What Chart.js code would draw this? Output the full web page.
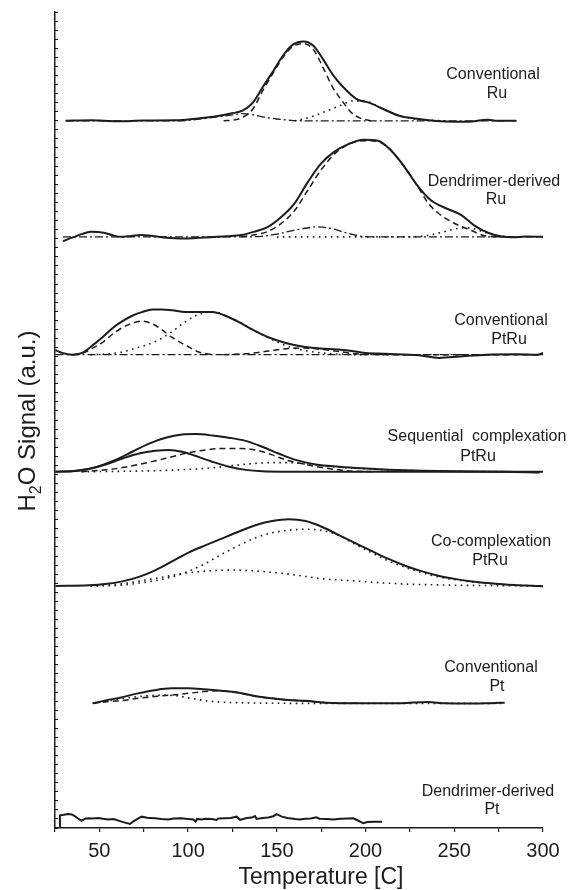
<!DOCTYPE html>
<html>
<head>
<meta charset="utf-8">
<title>TPR H2O signal</title>
<script src="https://cdn.jsdelivr.net/npm/chart.js@4.4.1/dist/chart.umd.min.js"></script>
<style>
  html, body { margin: 0; padding: 0; background: #fff; }
</style>
</head>
<body>
<canvas id="tprChart" width="569" height="890"></canvas>
<script>
// sample names (two lines each) and the vertical offset of each trace
const sampleNames = [
  ["Conventional", "Ru"],
  ["Dendrimer-derived", "Ru"],
  ["Conventional", "PtRu"],
  ["Sequential  complexation", "PtRu"],
  ["Co-complexation", "PtRu"],
  ["Conventional", "Pt"],
  ["Dendrimer-derived", "Pt"]
];
const baselines = [78.0, 65.2, 52.2, 39.3, 26.7, 13.75, 1.0];

// [temperature, signal above baseline]
const convRuTotal = [[31,0],[45,0.05],[60,-0.05],[75,0.03],[92,0.05],[100,0.15],[108,0.3],[116,0.5],[124,0.8],[131,1.15],[136.5,2.0],[142,3.7],[148,5.5],[153.5,7.2],[159,8.4],[165,8.75],[170.5,8.3],[176,6.8],[181.5,5.1],[187.5,3.7],[195,2.4],[202,2.0],[210,1.3],[219,0.55],[230,0.2],[245,-0.07],[258,-0.1],[265,0.05],[269,0.12],[274,0],[285,0]];
const convRuDash = [[120,0],[126,0.1],[131,0.4],[136.5,1.3],[142,3.3],[148,5.3],[153.5,7.0],[159,8.2],[165,8.5],[170.5,7.9],[176,5.9],[181.5,3.7],[187.5,2.0],[192,0.9],[197,0.3],[203,0]];
const convRuDot = [[160,0],[167,0.3],[173,0.7],[181,1.3],[187,1.8],[193,2.2],[199,2.2],[205,1.8],[212,1.1],[220,0.5],[230,0.15],[245,0]];
const convRuDashDot = [[31,0],[95,0],[105,0.15],[115,0.4],[125,0.65],[131,0.8],[137,0.65],[143,0.4],[150,0.2],[158,0.05],[165,0],[285,0]];

const dendRuTotal = [[29.5,-0.5],[33,-0.2],[36,0],[40,0.3],[45,0.55],[52.5,0.45],[57,0.2],[62,0],[68,0.1],[73.5,0.2],[81,0.07],[88,-0.1],[96,-0.18],[103,-0.15],[109,-0.07],[116,0],[122,0.07],[130,0.2],[137,0.55],[145,1.1],[152,2.1],[160,3.7],[167,5.9],[175,8.1],[182.5,9.4],[190,10.2],[199,10.7],[207,10.6],[214,9.6],[222,7.7],[229,5.7],[237,4.0],[246,3.1],[254,2.4],[261,1.3],[269,0.45],[276,0.07],[283,-0.05],[290,0.03],[300,0]];
const dendRuDash = [[130,0],[137,0.2],[145,0.6],[152,1.4],[160,2.9],[167,5.0],[175,7.4],[184,9.4],[193,10.4],[200,10.6],[207,10.5],[214,9.6],[222,7.7],[229,5.7],[235,3.8],[241,2.6],[250,1.5],[259,0.75],[268,0.1],[278,0]];
const dendRuDashDot = [[29.5,0],[130,0],[141,0.05],[150,0.3],[158,0.65],[166,0.95],[173,1.1],[180,0.95],[188,0.5],[195,0.15],[202,0],[300,0]];
const dendRuDot = [[150,0],[225,0],[235,0.15],[243,0.5],[250,0.85],[256,1.0],[262,0.85],[268,0.45],[275,0.1],[282,0]];

const convPtRuTotal = [[25.3,0.5],[29,0.2],[34.7,0],[40.3,0.2],[46,1.0],[51.6,1.9],[57.2,2.9],[63,3.7],[68.5,4.3],[74,4.7],[80,5.0],[85.4,5.0],[91,4.9],[98.6,4.7],[106,4.7],[113.6,4.7],[121,4.3],[128.7,3.6],[136,2.8],[145.6,1.9],[155,1.3],[166,0.85],[177.5,0.65],[189,0.5],[200,0.2],[211,0.1],[230,-0.07],[241.5,-0.35],[253,-0.2],[268,0],[285,0.05],[297,0],[300,0.2]];
const convPtRuDash = [[35,0],[41,0.2],[46,0.7],[52,1.4],[57,2.2],[63,3.0],[69,3.5],[74,3.7],[80,3.4],[85,2.8],[91,1.9],[99,1.0],[106,0.3],[114,0]];
const convPtRuDot = [[45,0],[55,0.1],[63,0.3],[70,0.7],[77,1.1],[85,1.8],[92,2.7],[99,3.7],[104,4.3],[110,4.65],[116,4.7],[121,4.3],[129,3.6],[136,2.8],[146,1.8],[155,1.0],[166,0.45],[178,0.15],[190,0.03],[200,0]];
const convPtRuDash2 = [[120,0],[135,0.15],[145,0.4],[155,0.65],[165,0.75],[175,0.6],[185,0.35],[195,0.1],[210,0],[300,0]];
const convPtRuDashDot = [[25.3,0],[300,0]];

const seqTotal = [[25.3,0],[36.6,0.1],[48,0.5],[59,1.3],[68.5,2.2],[78,3.1],[87.3,3.75],[96.7,4.1],[104,4.15],[113.6,4.0],[123,3.75],[132.4,3.4],[141.8,2.75],[151,2.0],[160.6,1.3],[172,0.8],[185,0.55],[198,0.37],[213,0.22],[232,0.1],[251,0.04],[279,0],[298,-0.1]];
const seqLow = [[25.3,0],[35,0.05],[44,0.3],[53.5,0.8],[63,1.45],[72.3,2.0],[81.7,2.3],[89.2,2.4],[96.7,2.2],[104,1.75],[113.6,1.1],[123,0.55],[132.4,0.2],[141.8,0.04],[153,0],[300,0]];
const seqDash = [[40,0],[53.5,0.2],[63,0.45],[72.3,0.8],[81.7,1.2],[91,1.65],[100.5,2.1],[110,2.4],[119.3,2.55],[130.5,2.55],[138,2.4],[147.4,1.85],[156.8,1.2],[166.2,0.8],[175.6,0.45],[185,0.2],[194.5,0.04],[205,0]];
const seqDot = [[40,0],[60,0.03],[80,0.1],[100,0.25],[115,0.45],[126,0.7],[137,0.9],[147,1.0],[157,1.0],[166,0.85],[175,0.7],[185,0.5],[198,0.35],[213,0.22],[232,0.1],[250,0.04],[280,0]];

const coTotal = [[25.3,0],[44,0.07],[53.5,0.2],[63,0.5],[72.3,1.0],[81.7,1.75],[91,2.7],[100.5,3.7],[110,4.5],[119.3,5.25],[128.7,6.0],[138,6.7],[147.4,7.15],[156.8,7.35],[166.2,7.15],[175.6,6.5],[185,5.6],[194.5,4.7],[204,3.8],[213.3,2.95],[222.7,2.2],[232,1.6],[241.5,1.1],[251,0.75],[260,0.5],[270,0.3],[279,0.15],[290,0.05],[300,-0.05]];
const coDotHigh = [[45,0],[60,0.05],[72,0.3],[82,0.6],[91,1.0],[100,1.6],[110,2.5],[119,3.5],[129,4.5],[138,5.3],[147,5.85],[157,6.15],[166,6.25],[176,6.1],[185,5.55],[194,4.6],[204,3.6],[213,2.75],[223,2.0],[232,1.45],[241,1.0],[251,0.68],[260,0.45],[270,0.27],[279,0.12],[300,0]];
const coDotLow = [[45,0],[55,0.1],[65,0.3],[75,0.6],[85,0.95],[95,1.3],[105,1.55],[115,1.7],[126,1.75],[138,1.65],[147,1.5],[157,1.3],[166,1.05],[175,0.8],[185,0.65],[194,0.55],[204,0.4],[213,0.3],[223,0.2],[232,0.15],[250,0.08],[270,0.04],[300,0]];

const convPtTotal = [[46.3,0],[53,0.3],[62.3,0.65],[71.7,1.1],[81,1.45],[90.5,1.65],[100,1.65],[109.3,1.55],[118.7,1.4],[128,1.2],[137.5,0.8],[147,0.55],[156.3,0.37],[166,0.28],[178,0.07],[198,0],[220,0.02],[235,0.15],[245,0],[259,-0.03],[270,0.02],[278.4,0.07]];
const convPtDash = [[46.3,0],[53,0.15],[62,0.3],[72,0.55],[81,0.75],[90,0.9],[100,1.1],[109,1.3],[116,1.38],[122,1.32],[128,1.18],[137.5,0.8],[147,0.55],[156,0.37],[166,0.26],[178,0.07],[198,0]];
const convPtDot = [[46.3,0],[53,0.2],[62,0.5],[72,0.75],[81,0.88],[88,0.9],[95,0.8],[100,0.6],[105,0.45],[109,0.3],[118,0.15],[128,0.07],[140,0.03],[160,0],[278.4,0]];

const dendPt = [[27.6,-0.85],[27.8,0.4],[30,0.45],[32.4,0.54],[34.5,0.5],[36.1,0.32],[38,0.05],[40,-0.2],[42,0.02],[43.7,0.07],[46,0.05],[49.4,0.1],[52,0.02],[55,-0.05],[58,-0.02],[62.5,-0.3],[64,-0.38],[67.2,-0.56],[69,-0.3],[71,-0.05],[73.8,0.25],[77,0.12],[81.3,0.07],[85,0],[88.8,-0.05],[92,0.04],[96.3,0.07],[100,0],[102.9,-0.05],[104.2,-0.3],[105,0],[107.6,-0.05],[110,0.02],[113.3,0],[116,-0.12],[117,0.05],[120.8,0.07],[124,0.1],[127.4,0.25],[129.3,-0.1],[133,0.1],[136,0.15],[137.7,0.32],[138.6,0],[142,0.1],[145.2,0.15],[148,0.3],[149.9,0.54],[152.8,0.25],[156,0.1],[160.3,0],[163,-0.05],[166,0.02],[169,0.05],[172.3,0.18],[174,0.02],[178,0],[181.7,-0.05],[186,0.03],[190,0.05],[193.1,0.07],[196,-0.2],[198.8,-0.48],[201,-0.35],[204.5,-0.3],[209.3,-0.3]];

const INK = "#1c1c1c";
const FONT = '"Liberation Sans", Arial, sans-serif';

const SOLID   = { borderWidth: 2,   borderDash: [] };
const DASH    = { borderWidth: 1.5, borderDash: [6, 4] };
const DOT     = { borderWidth: 1.6, borderDash: [1.6, 4.4] };
const DASHDOT = { borderWidth: 1.3, borderDash: [8, 3, 2, 3] };

function trace(points, sample, style, smooth = true) {
  const base = baselines[sample];
  return {
    data: points.map(([t, v]) => ({ x: t, y: base + v })),
    borderColor: INK,
    borderWidth: style.borderWidth,
    borderDash: style.borderDash,
    pointRadius: 0,
    fill: false,
    tension: smooth ? 0.4 : 0,
    cubicInterpolationMode: smooth ? "monotone" : "default"
  };
}

const datasets = [
  trace(convRuTotal, 0, SOLID),
  trace(convRuDash, 0, DASH),
  trace(convRuDot, 0, DOT),
  trace(convRuDashDot, 0, DASHDOT),

  trace(dendRuTotal, 1, SOLID),
  trace(dendRuDash, 1, DASH),
  trace(dendRuDashDot, 1, DASHDOT),
  trace(dendRuDot, 1, DOT),

  trace(convPtRuTotal, 2, SOLID),
  trace(convPtRuDash, 2, DASH),
  trace(convPtRuDot, 2, DOT),
  trace(convPtRuDash2, 2, DASH),
  trace(convPtRuDashDot, 2, DASHDOT),

  trace(seqTotal, 3, SOLID),
  trace(seqLow, 3, SOLID),
  trace(seqDash, 3, DASH),
  trace(seqDot, 3, DOT),

  trace(coTotal, 4, SOLID),
  trace(coDotHigh, 4, DOT),
  trace(coDotLow, 4, DOT),

  trace(convPtTotal, 5, SOLID),
  trace(convPtDash, 5, DASH),
  trace(convPtDot, 5, DOT),

  trace(dendPt, 6, SOLID, false)
];

/* ── text: sample labels and axis titles ── */
const labelSpots = [
  [493, 75, 497, 94],
  [494, 182, 496, 200],
  [501, 321, 509, 340],
  [477, 437, 478, 457],
  [491, 542, 490, 561],
  [491, 668, 497, 687],
  [488, 792, 492, 810]
];

const textPlugin = {
  id: "tprText",
  afterDraw(chart) {
    const ctx = chart.ctx;
    ctx.save();
    ctx.fillStyle = INK;
    ctx.textAlign = "center";
    ctx.textBaseline = "middle";
    ctx.font = "16px " + FONT;
    sampleNames.forEach((lines, i) => {
      const [x1, y1, x2, y2] = labelSpots[i];
      ctx.fillText(lines[0], x1, y1);
      ctx.fillText(lines[1], x2, y2);
    });

    ctx.font = "23px " + FONT;
    ctx.fillText("Temperature [C]", 321, 878);

    // rotated y title with subscript
    ctx.translate(35, 421);
    ctx.rotate(-Math.PI / 2);
    ctx.textAlign = "left";
    ctx.textBaseline = "alphabetic";
    const big = "24px " + FONT, small = "16px " + FONT;
    ctx.font = big;
    const wH = ctx.measureText("H").width;
    const wRest = ctx.measureText("O Signal (a.u.)").width;
    ctx.font = small;
    const w2 = ctx.measureText("2").width;
    let x = -(wH + w2 + wRest) / 2;
    ctx.font = big;
    ctx.fillText("H", x, 0);
    x += wH;
    ctx.font = small;
    ctx.fillText("2", x, 6);
    x += w2;
    ctx.font = big;
    ctx.fillText("O Signal (a.u.)", x, 0);
    ctx.restore();
  }
};

new Chart(document.getElementById("tprChart"), {
  type: "line",
  data: { datasets },
  options: {
    responsive: false,
    animation: false,
    layout: { padding: { top: 12, right: 26, left: 0, bottom: 0 } },
    plugins: {
      legend: { display: false },
      tooltip: { enabled: false }
    },
    scales: {
      x: {
        type: "linear",
        min: 25, max: 300,
        afterFit: s => { s.height = 62; },
        border: { display: true, color: INK, width: 1.5 },
        grid: { drawOnChartArea: false, drawTicks: true, tickLength: 4, color: INK, lineWidth: 1.2 },
        ticks: {
          stepSize: 25,
          autoSkip: false,
          maxRotation: 0,
          padding: 7,
          color: INK,
          font: { size: 20, family: FONT },
          callback: v => (v % 50 === 0 ? v : "")
        }
      },
      y: {
        min: 0, max: 90,
        afterFit: s => { s.width = 55; },
        border: { display: true, color: INK, width: 1.5 },
        grid: { drawOnChartArea: false, drawTicks: true, tickLength: -3, color: INK, lineWidth: 1 },
        ticks: { display: false, stepSize: 1 }
      }
    }
  },
  plugins: [textPlugin]
});
</script>
</body>
</html>
